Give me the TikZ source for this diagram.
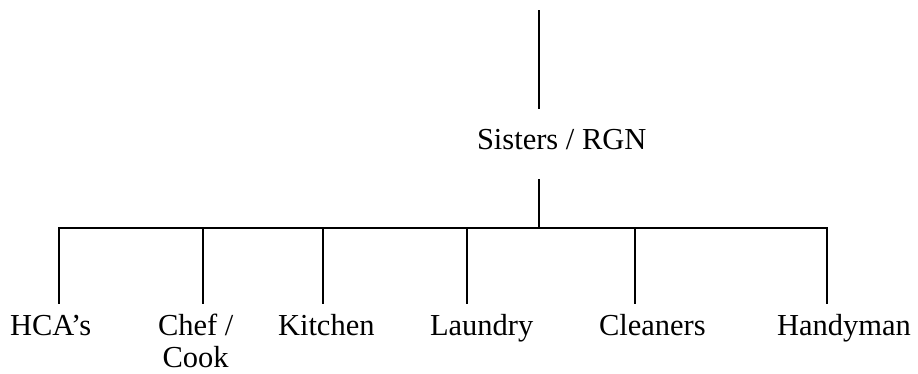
\documentclass[tikz,border=0pt]{standalone}
\usepackage{fontspec}
\setmainfont{Liberation Serif}
\begin{document}
\begin{tikzpicture}[x=1pt,y=-1pt,
  lbl/.style={inner sep=0pt,outer sep=0pt,anchor=base west,font=\fontsize{30.5}{32}\selectfont},
  conn/.style={line width=1.4pt,line cap=rect}]
\useasboundingbox (0,0) rectangle (918,374);
% connectors
\coordinate (topA) at (539,11);
\coordinate (topB) at (539,108);
\coordinate (midA) at (539,180);
\coordinate (midB) at (539,228);
\draw[conn] (topA) -- (topB);
\draw[conn] (midA) -- (midB);
% labels
\node[lbl] (sisters) at (477,150) {Sisters / RGN};
\node[lbl] (hca) at (10,335) {HCA’s};
\node[lbl,align=center] (chef) at (158,367) {Chef /\\Cook};
\node[lbl] (kitchen) at (278,335) {Kitchen};
\node[lbl] (laundry) at (430,335) {Laundry};
\node[lbl] (cleaners) at (599,335) {Cleaners};
\node[lbl] (handyman) at (777,335) {Handyman};
\foreach \n/\x in {hca/59,chef/203,kitchen/323,laundry/467,cleaners/635,handyman/827}{
  \coordinate (\n-bar) at (\x,228);
  \coordinate (\n-end) at (\x,303);
}
\draw[conn] (hca-bar) -- (handyman-bar);
\foreach \n in {hca,chef,kitchen,laundry,cleaners,handyman}{
  \draw[conn] (\n-bar) -- (\n-end);
}
\end{tikzpicture}
\end{document}
